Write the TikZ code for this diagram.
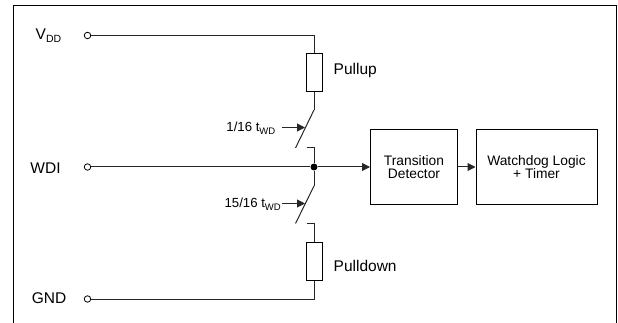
\documentclass[tikz,border=0pt]{standalone}
\usepackage{fontspec}
\setmainfont{Liberation Sans}
\usetikzlibrary{calc,arrows.meta}
\newcommand{\prsub}[2]{\raisebox{-3.5pt}{\fontsize{#1}{9}\selectfont #2}}
\newcommand{\prswitch}[3]{\draw[wire] (#1) -- (#2); \draw[sgl] (#3) -- ($(#3)+(23,0)$);}
\tikzset{
  wire/.style={line width=1pt,black!85},
  sgl/.style={wire,-{Triangle[length=8pt,width=8pt]}},
  term/.style={circle,draw,line width=0.8pt,fill=white,minimum size=6.5pt,inner sep=0pt},
  res/.style={rectangle,draw,line width=1pt,minimum width=16pt,minimum height=38pt,inner sep=0pt},
  blockbox/.style={rectangle,draw,line width=1pt,align=center,inner sep=0pt,font=\fontsize{13.8}{13}\selectfont},
  lbl/.style={inner sep=0pt,font=\fontsize{15.5}{15}\selectfont},
  smalllbl/.style={inner sep=0pt,font=\fontsize{13.2}{13}\selectfont},
}
\begin{document}
\begin{tikzpicture}[x=1pt,y=-1pt]
    \useasboundingbox (0,0) rectangle (618,323);

    % frame, open at the bottom of the page
    \draw[line width=1pt] (13.5,323) -- (13.5,6) -- (616,6) -- (616,323);

    % terminals
    \node[term] (vdd) at (87.5,35.5) {};
    \node[term] (wdi) at (87.5,167) {};
    \node[term] (gnd) at (87.5,299) {};

    \node[lbl,anchor=west] (vddl) at (35.5,35.5) {V\prsub{10.5}{DD}};
    \node[lbl] (wdil) at (45.5,168) {WDI};
    \node[lbl] (gndl) at (49,298) {GND};

    % resistors and blocks
    \node[res] (pullup) at (314,72.5) {};
    \node[res] (pulldown) at (314,261.5) {};
    \node[lbl,anchor=west] (pullupl) at (333.5,70) {Pullup};
    \node[lbl,anchor=west] (pulldownl) at (333.5,266) {Pulldown};

    \node[blockbox,minimum width=87pt,minimum height=75pt] (detector) at (414,167) {Transition\\Detector};
    \node[blockbox,minimum width=121pt,minimum height=75pt] (logic) at (536.5,167) {Watchdog Logic\\+ Timer};

    \node[circle,fill=black,minimum size=7pt,inner sep=0pt] (dot) at (314,167) {};

    % switch end points
    \coordinate (upA) at (314,110);
    \coordinate (upB) at (295.5,148);
    \coordinate (upC) at (306.5,148);
    \coordinate (upD) at (314,148);
    \coordinate (loA) at (314,186);
    \coordinate (loB) at (295.5,223.5);
    \coordinate (loC) at (306.5,223.5);
    \coordinate (loD) at (314,223.5);
    \coordinate (upctl) at (282,127.5);
    \coordinate (loctl) at (282,203.5);

    % wires
    \draw[wire] (vdd) -| (pullup.north);
    \draw[wire] (pullup.south) -- (upA);
    \draw[wire] (upC) -- (upD) -- (dot);
    \draw[wire] (dot) -- (loA);
    \draw[wire] (loC) -- (loD) -- (pulldown.north);
    \draw[wire] (gnd) -| (pulldown.south);
    \draw[wire] (wdi) -- (dot);
    \draw[sgl] (dot) -- (detector);
    \draw[sgl] (detector) -- (logic);

    \prswitch{upA}{upB}{upctl}
    \prswitch{loA}{loB}{loctl}

    \node[smalllbl,anchor=east] (upl) at (275.5,128) {1/16 t\prsub{9.5}{WD}};
    \node[smalllbl,anchor=east] (lol) at (281,204) {15/16 t\prsub{9.5}{WD}};
\end{tikzpicture}
\end{document}
